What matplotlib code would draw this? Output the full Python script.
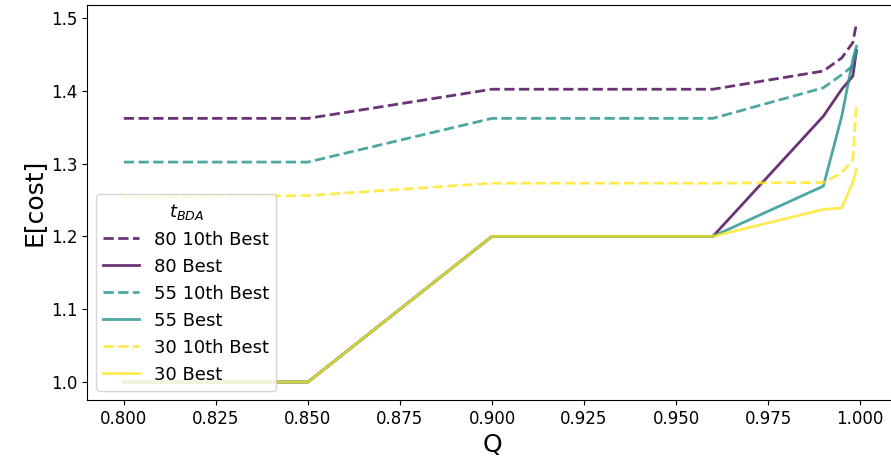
import numpy as np
import matplotlib
matplotlib.use("Agg")
import matplotlib.pyplot as plt

# quantile levels Q
q = [0.8, 0.85, 0.9, 0.96, 0.99, 0.995, 0.998, 0.999]

# expected cost per t_BDA, best run and 10th best run
best_80 = [1.0, 1.0, 1.2, 1.2, 1.365, 1.402, 1.42, 1.455]
tenth_80 = [1.362, 1.362, 1.402, 1.402, 1.427, 1.445, 1.466, 1.493]
best_55 = [1.0, 1.0, 1.2, 1.2, 1.269, 1.365, 1.443, 1.461]
tenth_55 = [1.302, 1.302, 1.362, 1.362, 1.404, 1.422, 1.434, 1.455]
best_30 = [1.0, 1.0, 1.2, 1.2, 1.237, 1.239, 1.274, 1.292]
tenth_30 = [1.254, 1.256, 1.273, 1.273, 1.274, 1.287, 1.306, 1.383]

t_bda = [80, 55, 30]
runs = {80: (tenth_80, best_80), 55: (tenth_55, best_55), 30: (tenth_30, best_30)}
colors = plt.cm.viridis(np.linspace(0, 1, len(t_bda)))

fig = plt.figure(figsize=(8.91, 4.72), dpi=100)
ax = fig.add_axes([87 / 891, 72 / 472, 810 / 891, 395 / 472])

for t, c in zip(t_bda, colors):
    tenth, best = runs[t]
    ax.plot(q, tenth, '--', color=c, alpha=0.8, lw=2, label=f'{t} 10th Best')
    ax.plot(q, best, '-', color=c, alpha=0.8, lw=2, label=f'{t} Best')

ax.set_xlim(0.79, 1.01)
ax.set_xlabel('Q', fontsize=18)
ax.set_ylabel('E[cost]', fontsize=18)
ax.tick_params(labelsize=12)
ax.set_xticks(np.arange(0.8, 1.0001, 0.025))
ax.xaxis.set_major_formatter(matplotlib.ticker.FormatStrFormatter('%.3f'))
ax.set_yticks(np.arange(1.0, 1.5001, 0.1))
ax.yaxis.set_major_formatter(matplotlib.ticker.FormatStrFormatter('%.1f'))
ax.legend(title='$t_{BDA}$', loc='lower left', fontsize=13, title_fontsize=13)

fig.savefig('out.png', dpi=100)
